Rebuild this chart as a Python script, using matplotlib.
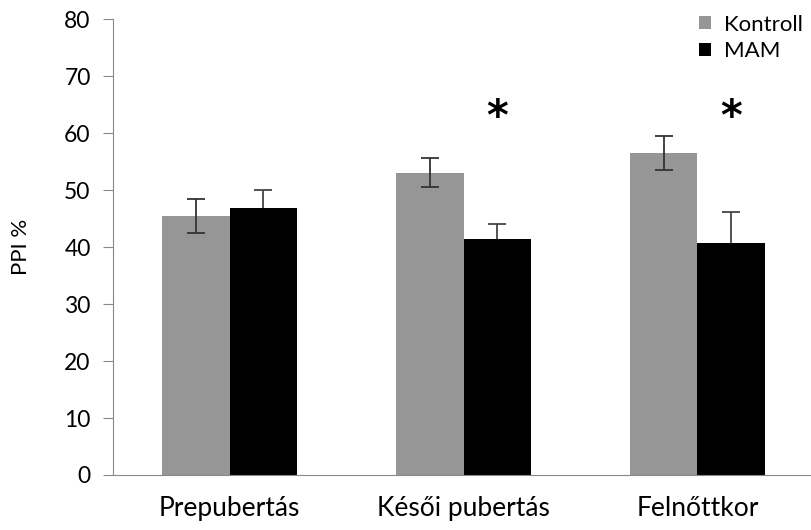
import matplotlib.pyplot as plt
import numpy as np

plt.rcParams['font.family'] = ['Lato', 'DejaVu Sans']

# PPI adatok korcsoportonként
categories = ['Prepubertás', 'Késői pubertás', 'Felnőttkor']
kontroll = [45.5, 53.1, 56.5]
kontroll_err = [2.95, 2.6, 2.95]
mam = [46.8, 41.5, 40.8]
mam_err = [3.25, 2.5, 5.4]
significant = [False, True, True]

x = np.arange(len(categories))
width = 0.288

fig = plt.figure(figsize=(8.12, 5.30), dpi=100)
ax = fig.add_axes([0.139, 0.1038, 0.861, 0.8598])

err_kw = dict(ecolor='#333333', elinewidth=1.3, capsize=6.5, capthick=1.3)
ax.bar(x - width / 2, kontroll, width, yerr=kontroll_err, color='#969696',
       label='Kontroll', error_kw=err_kw)
# a MAM hibavonalai az oszlop mögé kerülnek, így csak a felső fél látszik
ax.bar(x + width / 2, mam, width, yerr=mam_err, color='black', label='MAM',
       zorder=2, error_kw=dict(err_kw, ecolor='#444444', zorder=1))

# csillag a szignifikáns különbségeknél
for i, sig in enumerate(significant):
    if sig:
        ax.text(x[i] + width / 2, 62.6, '*', ha='center', va='center',
                fontsize=30, fontweight='bold', family='DejaVu Sans')

ax.set_xlim(-0.5, 2.49)
ax.set_ylim(0, 80)
ax.set_yticks(range(0, 81, 10))
ax.set_xticks(x)
ax.set_xticklabels(categories, fontsize=19)
ax.tick_params(axis='x', length=0, pad=15)
ax.tick_params(axis='y', length=7, color='#888888', labelsize=16.5, pad=9)
ax.set_ylabel('PPI %', fontsize=16, labelpad=24)

for s in ['top', 'right']:
    ax.spines[s].set_visible(False)
for s in ['left', 'bottom']:
    ax.spines[s].set_color('#888888')
    ax.spines[s].set_zorder(3)

ax.legend(loc='upper right', bbox_to_anchor=(1.0, 1.03), frameon=False,
          fontsize=16, handlelength=0.55, handleheight=0.55,
          handletextpad=0.6, labelspacing=0.3, borderaxespad=0)

fig.savefig('out.png', dpi=100)
